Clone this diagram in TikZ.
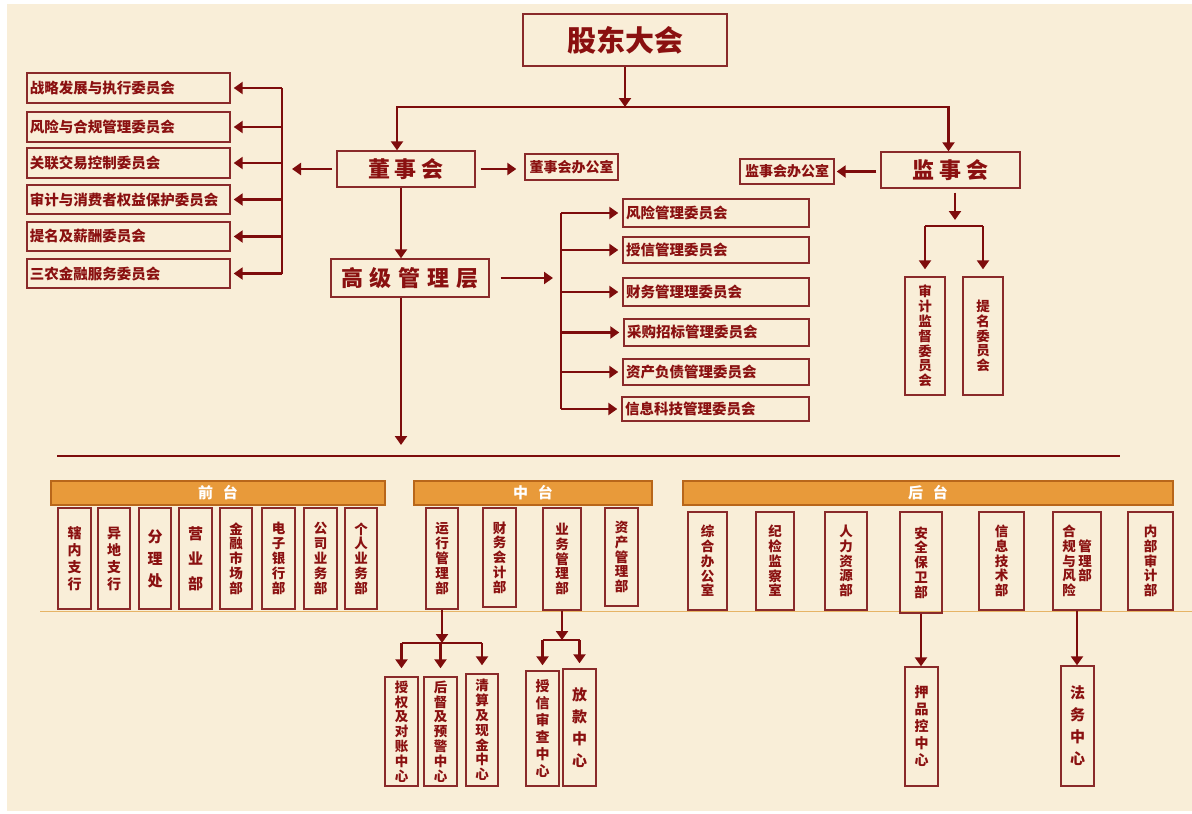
\documentclass[tikz,border=0pt]{standalone}
\usepackage{fontspec}
\setmainfont{Noto Sans CJK SC}
\usetikzlibrary{arrows.meta}
\definecolor{bg}{HTML}{F9EED8}
\definecolor{dr}{HTML}{7E0C0C}
\definecolor{bd}{HTML}{8A2A2A}
\definecolor{txt}{HTML}{8A1010}
\definecolor{org}{HTML}{E89A3A}
\definecolor{orgd}{HTML}{B8661A}
\definecolor{thinl}{HTML}{E6B466}
\newcommand\bx[7][]{\pgfmathsetmacro\bw{#5-#3}\pgfmathsetmacro\bh{#6-#4}%
  \node[box,minimum width=\bw pt,minimum height=\bh pt,#1] (#2) at ({(#3+#5)/2},{(#4+#6)/2}) {#7};}
\newcommand\lbx[6]{\pgfmathsetmacro\bw{#4-#2}\pgfmathsetmacro\bh{#5-#3}%
  \node[box,hz,minimum width=\bw pt,minimum height=\bh pt] (#1) at ({(#2+#4)/2},{(#3+#5)/2}) {\makebox[\bw pt][l]{\hspace{3pt}#6}};}
\begin{document}
\begin{tikzpicture}[x=1pt,y=-1pt,
  box/.style={draw=bd,line width=1.4pt,inner sep=0pt,text=txt,font=\bfseries},
  hz/.style={font=\fontsize{14.5}{15}\selectfont\bfseries},
  big/.style={font=\fontsize{22}{22}\selectfont\bfseries},
  vt/.style={align=center,font=\fontsize{13.5}{14.8}\selectfont\bfseries},
  vtm/.style={align=center,font=\fontsize{14}{17}\selectfont\bfseries},
  vtw/.style={align=center,font=\fontsize{15}{22}\selectfont\bfseries},
  vtx/.style={align=center,font=\fontsize{15}{25}\selectfont\bfseries},
  bar/.style={draw=orgd,fill=org,line width=1.4pt,inner sep=0pt,text=white,font=\fontsize{15}{15}\selectfont\bfseries},
  ln/.style={draw=dr,line width=2.6pt},
  tri/.style={draw=dr,line width=2.6pt,-{Triangle[length=9pt,width=12pt]}}]
\useasboundingbox (0,0) rectangle (1192,814);
\fill[white] (0,0) rectangle (1192,814);
\fill[bg] (7,4) rectangle (1192,811);
% thin baseline under columns
\coordinate (T1) at (40,611); \coordinate (T2) at (1192,611);
\draw[thinl,line width=1pt] (T1) -- (T2);
% top
\bx[font=\fontsize{29}{29}\selectfont\bfseries]{gd}{523}{14}{727}{66}{股东大会}
\bx[big]{dsh}{337}{151}{475}{187}{董\hspace{5pt}事\hspace{5pt}会}
\bx[font=\fontsize{14}{14}\selectfont\bfseries]{dso}{525}{154}{618}{180}{董事会办公室}
\bx[big]{jsh}{881}{152}{1020}{188}{监\hspace{5pt}事\hspace{5pt}会}
\bx[font=\fontsize{14}{14}\selectfont\bfseries]{jso}{740}{159}{834}{184}{监事会办公室}
\bx[big]{gj}{331}{259}{489}{297}{高\hspace{7pt}级\hspace{7pt}管\hspace{7pt}理\hspace{7pt}层}
% left committees
\lbx{c1}{27}{73}{230}{103}{战略发展与执行委员会}
\lbx{c2}{27}{112}{230}{142}{风险与合规管理委员会}
\lbx{c3}{27}{148}{230}{178}{关联交易控制委员会}
\lbx{c4}{27}{185}{230}{214}{审计与消费者权益保护委员会}
\lbx{c5}{27}{222}{230}{251}{提名及薪酬委员会}
\lbx{c6}{27}{259}{230}{288}{三农金融服务委员会}
% right committees
\lbx{r1}{623}{199}{809}{227}{风险管理委员会}
\lbx{r2}{623}{237}{809}{263}{授信管理委员会}
\lbx{r3}{623}{278}{809}{306}{财务管理理委员会}
\lbx{r4}{624}{319}{809}{346}{采购招标管理委员会}
\lbx{r5}{623}{359}{809}{385}{资产负债管理委员会}
\lbx{r6}{622}{397}{809}{421}{信息科技管理委员会}
% supervisory committees
\bx[vt]{sa}{905}{277}{945}{395}{审\\计\\监\\督\\委\\员\\会}
\bx[vt]{sb}{963}{277}{1003}{395}{提\\名\\委\\员\\会}
% bars
\bx[bar]{qt}{51}{481}{385}{505}{前\hspace{10pt}台}
\bx[bar]{zt}{414}{481}{652}{505}{中\hspace{10pt}台}
\bx[bar]{ht}{683}{481}{1173}{505}{后\hspace{10pt}台}
% front
\bx[vtm]{f1}{58}{508}{91}{609}{辖\\内\\支\\行}
\bx[vtm]{f2}{98}{508}{130}{609}{异\\地\\支\\行}
\bx[vtw]{f3}{139}{508}{171}{609}{分\\理\\处}
\bx[vtx]{f4}{179}{508}{212}{609}{营\\业\\部}
\bx[vt]{f5}{220}{508}{252}{609}{金\\融\\市\\场\\部}
\bx[vt]{f6}{262}{508}{295}{609}{电\\子\\银\\行\\部}
\bx[vt]{f7}{304}{508}{337}{609}{公\\司\\业\\务\\部}
\bx[vt]{f8}{345}{508}{377}{609}{个\\人\\业\\务\\部}
% middle
\bx[vt]{m1}{426}{508}{458}{609}{运\\行\\管\\理\\部}
\bx[vt]{m2}{483}{508}{516}{607}{财\\务\\会\\计\\部}
\bx[vt]{m3}{543}{508}{581}{610}{业\\务\\管\\理\\部}
\bx[vt]{m4}{605}{508}{638}{606}{资\\产\\管\\理\\部}
% back
\bx[vt]{b1}{688}{512}{727}{610}{综\\合\\办\\公\\室}
\bx[vt]{b2}{756}{512}{794}{610}{纪\\检\\监\\察\\室}
\bx[vt]{b3}{825}{512}{867}{610}{人\\力\\资\\源\\部}
\bx[vt]{b4}{900}{512}{942}{613}{安\\全\\保\\卫\\部}
\bx[vt]{b5}{979}{512}{1024}{610}{信\\息\\技\\术\\部}
\bx[box]{b6}{1053}{512}{1101}{610}{\fontsize{13.5}{14.8}\selectfont\bfseries\parbox[c]{15pt}{\centering 合\\规\\与\\风\\险}\hspace{1pt}\parbox[c]{15pt}{\centering 管\\理\\部}}
\bx[vt]{b7}{1128}{512}{1173}{610}{内\\部\\审\\计\\部}
% sub centres
\bx[vt]{s1}{385}{677}{418}{786}{授\\权\\及\\对\\账\\中\\心}
\bx[vt]{s2}{424}{677}{457}{786}{后\\督\\及\\预\\警\\中\\心}
\bx[vt]{s3}{466}{674}{498}{786}{清\\算\\及\\现\\金\\中\\心}
\bx[vtm]{s4}{526}{671}{559}{786}{授\\信\\审\\查\\中\\心}
\bx[vtw]{s5}{563}{669}{596}{786}{放\\款\\中\\心}
\bx[vtm]{p1}{905}{667}{938}{786}{押\\品\\控\\中\\心}
\bx[vtw]{p2}{1061}{666}{1094}{786}{法\\务\\中\\心}
% junction coordinates
\coordinate (j1) at (625,107);
\coordinate (lb) at (282,169);
\coordinate (rb) at (561,278);
\coordinate (sj) at (955,226);
\coordinate (hend) at (401,445);
\coordinate (L1) at (57,456); \coordinate (L2) at (1120,456);
\coordinate (mj1) at (442,643);
\coordinate (mj2) at (562,640);
% connectors top
\draw[tri] (gd.south) -- (j1);
\draw[tri] (j1) -| ([xshift=-9pt]dsh.north);
\draw[tri] (j1) -| ([xshift=-2pt]jsh.north);
\draw[tri] ([xshift=5pt]dsh.east) -- ([xshift=-8pt]dso.west |- dsh.east);
\draw[tri] ([xshift=-4pt]jsh.west |- jso.east) -- ([xshift=2pt]jso.east);
\draw[tri] ([xshift=-4pt]dsh.west) -- ([xshift=10pt]lb);
\draw[ln] (lb |- c1.east) -- (lb |- c6.east);
\foreach \c in {c1,c2,c3,c4,c5,c6}{\draw[tri] (lb |- \c.east) -- ([xshift=3pt]\c.east);}
\draw[tri] ([xshift=-5pt]dsh.south) -- ([xshift=-5pt]dsh.south |- gj.north);
\draw[tri] ([xshift=11pt]gj.east) -- ([xshift=-8pt]rb);
\draw[ln] (rb |- r1.west) -- (rb |- r6.west);
\foreach \c in {r1,r2,r3,r4,r5,r6}{\draw[tri] (rb |- \c.west) -- ([xshift=-4pt]\c.west);}
\draw[tri] ([xshift=-9pt]gj.south) -- (hend);
\draw[ln] (L1) -- (L2);
% supervisory branch
\draw[tri] ([yshift=-4pt]jsh.south -| sj) -- ([yshift=6pt]sj);
\draw[ln] (sj -| sa.north) -- (sj -| sb.north);
\draw[tri] (sj -| sa.north) -- ([yshift=7pt]sa.north);
\draw[tri] (sj -| sb.north) -- ([yshift=7pt]sb.north);
% bottom branches
\draw[tri] (m1.south) -- (mj1);
\draw[ln] (mj1 -| s1.north) -- (mj1 -| s3.north);
\foreach \c in {s1,s2,s3}{\draw[tri] (mj1 -| \c.north) -- ([yshift=8pt]\c.north);}
\draw[tri] (m3.south) -- (mj2);
\draw[ln] (mj2 -| s4.north) -- (mj2 -| s5.north);
\foreach \c in {s4,s5}{\draw[tri] (mj2 -| \c.north) -- ([yshift=5pt]\c.north);}
\draw[tri] (b4.south) -- (b4.south |- p1.north);
\draw[tri] (b6.south) -- (b6.south |- p2.north);
\end{tikzpicture}
\end{document}
